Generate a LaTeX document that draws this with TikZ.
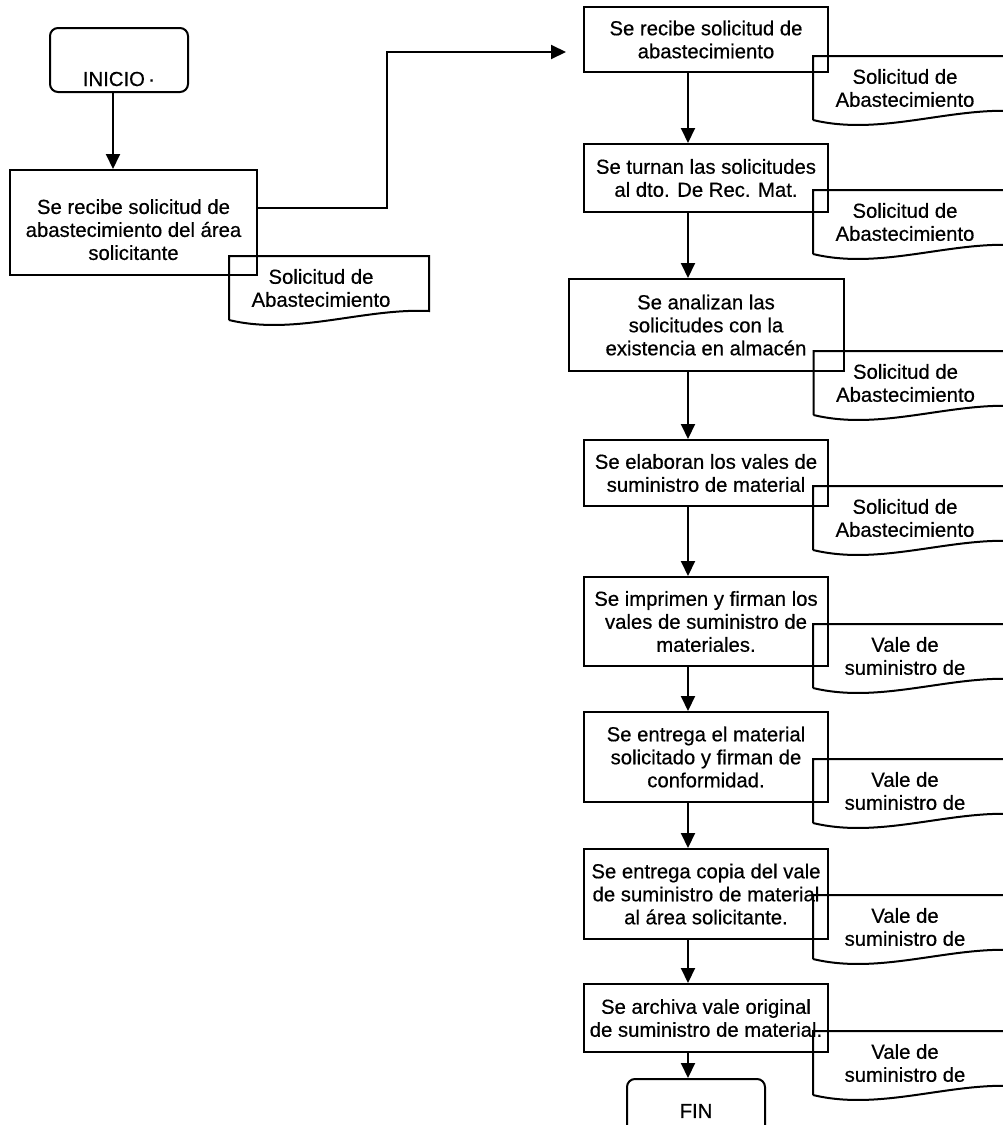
\documentclass[tikz,border=0pt]{standalone}
\usepackage{fontspec}
\setmainfont{Liberation Sans}[FakeBold=0.5]
\usetikzlibrary{arrows.meta, positioning, calc}

\begin{document}
\begin{tikzpicture}[
        x=1pt, y=-1pt,
        >={Triangle[length=15pt, width=14pt]},
        line width=2pt,
        font=\fontsize{20.3}{23}\selectfont,
        % Cajas del diagrama
        proceso/.style={draw, rectangle, align=center, minimum width=244pt, minimum height=66pt, inner sep=2pt},
        terminal/.style={draw, rectangle, rounded corners=8pt, minimum width=138pt, minimum height=64pt},
        documento/.style={rectangle, align=center, minimum width=182pt, minimum height=62pt, inner sep=0pt},
        flujo/.style={->}
    ]
    \useasboundingbox (0,0) rectangle (1002,1125);

    % Columna izquierda
    \node[terminal, text height=54pt, text depth=2pt, inner sep=4pt] (inicio) at (119,60) {INICIO\,·};
    \node[proceso, minimum width=247pt, minimum height=105pt] (recibe) at (133.5,222.5) {\rule{0pt}{29pt}Se recibe solicitud de\\abastecimiento del área\\solicitante};
    \node[documento, below right=-20pt and -29pt of recibe] (docini) {Solicitud de\\Abastecimiento};

    % Columna derecha
    \node[proceso, minimum height=65pt] (recA) at (706,39.5) {Se recibe solicitud de\\abastecimiento};
    \node[proceso, below=70pt of recA, minimum height=68pt] (turnan) {Se turnan las solicitudes\\al dto. De Rec. Mat.};
    \node[proceso, below=65pt of turnan, minimum width=275pt, minimum height=92pt] (analizan) {Se analizan las\\solicitudes con la\\existencia en almacén};
    \node[proceso, below=67pt of analizan] (elaboran) {Se elaboran los vales de\\suministro de material};
    \node[proceso, below=69pt of elaboran, minimum height=89pt] (imprimen) {Se imprimen y firman los\\vales de suministro de\\materiales.};
    \node[proceso, below=44pt of imprimen, minimum height=90pt] (entrega) {Se entrega el material\\solicitado y firman de\\conformidad.};
    \node[proceso, below=45pt of entrega, minimum height=90pt] (copia) {Se entrega copia del vale\\de suministro de material\\al área solicitante.};
    \node[proceso, below=43pt of copia, minimum height=68pt] (archiva) {Se archiva vale original\\de suministro de material.};
    \node[terminal, below=25pt of archiva, xshift=-10pt] (fin) {FIN};

    % Documentos
    \node[documento, below right=-17pt and -16pt of recA] (docA) {Solicitud de\\Abastecimiento};
    \node[documento, below right=-23pt and -16pt of turnan] (docB) {Solicitud de\\Abastecimiento};
    \node[documento, below right=-21pt and -31pt of analizan] (docC) {Solicitud de\\Abastecimiento};
    \node[documento, below right=-21pt and -16pt of elaboran] (docD) {Solicitud de\\Abastecimiento};
    \node[documento, below right=-43pt and -16pt of imprimen] (docE) {Vale de\\suministro de};
    \node[documento, below right=-44pt and -16pt of entrega] (docF) {Vale de\\suministro de};
    \node[documento, below right=-45pt and -16pt of copia] (docG) {Vale de\\suministro de};
    \node[documento, below right=-22pt and -16pt of archiva] (docH) {Vale de\\suministro de};

    \foreach \d in {docini, docA, docB, docC, docD, docE, docF, docG, docH}
        \draw (\d.south west) -- (\d.north west) -- ([xshift=16pt]\d.north east) -- ([xshift=16pt, yshift=9pt]\d.south east) .. controls +(-66,-3) and +(66,16) .. (\d.south west);

    % Flechas
    \draw[flujo] ([xshift=-6pt]inicio.south) -- ([xshift=-20.5pt]recibe.north);
    \coordinate (quiebre) at (387,52);
    \draw[flujo] ([yshift=14.5pt]recibe.east) -| (quiebre) -- ($(quiebre -| recA.west)+(-17,0)$);

    \draw[flujo] ([xshift=-18pt]recA.south) -- ([xshift=-18pt]turnan.north);
    \draw[flujo] ([xshift=-18pt]turnan.south) -- ([xshift=-18pt]analizan.north);
    \draw[flujo] ([xshift=-18pt]analizan.south) -- ([xshift=-18pt]elaboran.north);
    \draw[flujo] ([xshift=-18pt]elaboran.south) -- ([xshift=-18pt]imprimen.north);
    \draw[flujo] ([xshift=-18pt]imprimen.south) -- ([xshift=-18pt]entrega.north);
    \draw[flujo] ([xshift=-18pt]entrega.south) -- ([xshift=-18pt]copia.north);
    \draw[flujo] ([xshift=-18pt]copia.south) -- ([xshift=-18pt]archiva.north);
    \draw[flujo] ([xshift=-18pt]archiva.south) -- ([xshift=-8pt]fin.north);

\end{tikzpicture}
\end{document}
